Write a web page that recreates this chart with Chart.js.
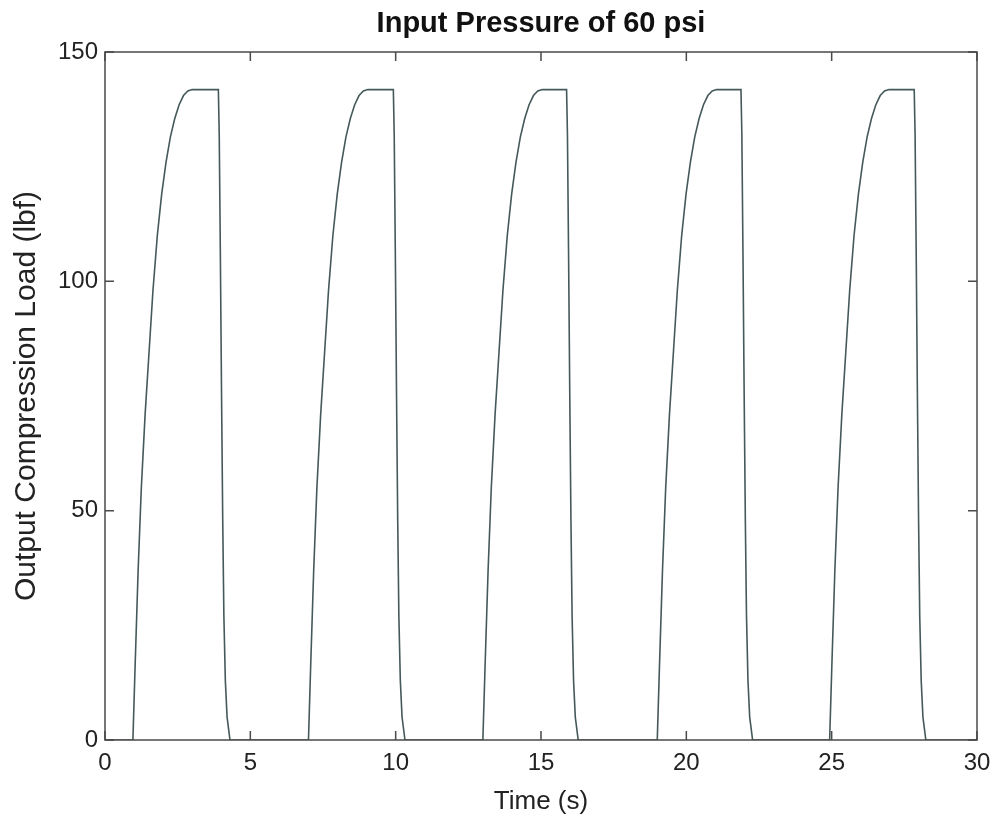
<!DOCTYPE html>
<html>
<head>
<meta charset="utf-8">
<script src="https://cdn.jsdelivr.net/npm/chart.js@4/dist/chart.umd.min.js"></script>
<style>
    body { margin: 0; background: #fff; }
    #chart { display: block; }
</style>
</head>
<body>
<canvas id="chart" width="995" height="824"></canvas>
<script>
// five load pulses (time in s, load in lbf)
const riseLoad = [0, 17, 37, 55, 71, 84, 98, 110, 119, 126, 131.5, 135.5, 138.5, 140.5, 141.5, 141.8];
const fallLoad = [141.8, 132, 105, 75, 48, 27, 13, 5, 0];

const riseTimes = [
    [0.96, 1.04, 1.14, 1.25, 1.38, 1.51, 1.65, 1.80, 1.95, 2.10, 2.25, 2.40, 2.55, 2.70, 2.85, 3.00],
    [7.00, 7.08, 7.18, 7.29, 7.42, 7.55, 7.69, 7.84, 7.99, 8.14, 8.29, 8.44, 8.59, 8.74, 8.89, 9.04],
    [13.00, 13.08, 13.18, 13.29, 13.42, 13.55, 13.69, 13.84, 13.99, 14.14, 14.29, 14.44, 14.59, 14.74, 14.89, 15.04],
    [19.00, 19.08, 19.18, 19.29, 19.42, 19.55, 19.69, 19.84, 19.99, 20.14, 20.29, 20.44, 20.59, 20.74, 20.89, 21.04],
    [24.93, 25.01, 25.11, 25.22, 25.35, 25.48, 25.62, 25.77, 25.92, 26.07, 26.22, 26.37, 26.52, 26.67, 26.82, 26.97],
];
const fallTimes = [
    [3.90, 3.93, 3.97, 4.01, 4.05, 4.09, 4.14, 4.20, 4.30],
    [9.92, 9.95, 9.99, 10.03, 10.07, 10.11, 10.16, 10.22, 10.32],
    [15.88, 15.91, 15.95, 15.99, 16.03, 16.07, 16.12, 16.18, 16.28],
    [21.88, 21.91, 21.95, 21.99, 22.03, 22.07, 22.12, 22.18, 22.28],
    [27.84, 27.87, 27.91, 27.95, 27.99, 28.03, 28.08, 28.14, 28.24],
];

const xTicks = [0, 5, 10, 15, 20, 25, 30];
const yTicks = [0, 50, 100, 150];

const titleText = 'Input Pressure of 60 psi';
const xLabel = 'Time (s)';
const yLabel = 'Output Compression Load (lbf)';

const points = [{ x: 0, y: 0 }];
riseTimes.forEach((times, i) => {
    times.forEach((t, j) => points.push({ x: t, y: riseLoad[j] }));
    fallTimes[i].forEach((t, j) => points.push({ x: t, y: fallLoad[j] }));
});
points.push({ x: 30, y: 0 });

const FONT = '"Liberation Sans", Arial, Helvetica, sans-serif';
const AXIS_COLOR = '#4a4a4a';

// matlab-like box with inward ticks on all four sides, plus the title
const framePlugin = {
    id: 'frame',
    afterDatasetsDraw(chart) {
        const { ctx, chartArea, scales } = chart;
        const { left, right, top, bottom } = chartArea;
        const tickLen = 9;

        ctx.save();
        ctx.strokeStyle = AXIS_COLOR;
        ctx.lineWidth = 1.5;
        ctx.strokeRect(left, top, right - left, bottom - top);

        ctx.beginPath();
        xTicks.forEach((v) => {
            const px = scales.x.getPixelForValue(v);
            ctx.moveTo(px, bottom);
            ctx.lineTo(px, bottom - tickLen);
            ctx.moveTo(px, top);
            ctx.lineTo(px, top + tickLen);
        });
        yTicks.forEach((v) => {
            const py = scales.y.getPixelForValue(v);
            ctx.moveTo(left, py);
            ctx.lineTo(left + tickLen, py);
            ctx.moveTo(right, py);
            ctx.lineTo(right - tickLen, py);
        });
        ctx.stroke();

        ctx.fillStyle = '#111';
        ctx.font = `bold 29px ${FONT}`;
        ctx.textAlign = 'center';
        ctx.textBaseline = 'middle';
        ctx.fillText(titleText, (left + right) / 2, 24);
        ctx.restore();
    },
};

new Chart(document.getElementById('chart'), {
    type: 'scatter',
    data: {
        datasets: [
            {
                data: points,
                showLine: true,
                borderColor: '#45595a',
                borderWidth: 1.6,
                pointRadius: 0,
                tension: 0,
            },
        ],
    },
    options: {
        responsive: false,
        animation: false,
        layout: { padding: { top: 52, right: 18, left: 0, bottom: 0 } },
        plugins: {
            legend: { display: false },
            tooltip: { enabled: false },
        },
        scales: {
            x: {
                type: 'linear',
                min: 0,
                max: 30,
                afterBuildTicks: (scale) => {
                    scale.ticks = xTicks.map((v) => ({ value: v }));
                },
                afterFit: (scale) => {
                    scale.height = 84;
                    scale.paddingLeft = 0;
                    scale.paddingRight = 0;
                },
                grid: { display: false, drawTicks: false, tickLength: 0 },
                border: { display: false },
                ticks: {
                    padding: 9,
                    color: '#222',
                    font: { family: FONT, size: 24 },
                    maxRotation: 0,
                },
                title: {
                    display: true,
                    text: xLabel,
                    color: '#222',
                    font: { family: FONT, size: 26 },
                    padding: { top: 0, bottom: 7 },
                },
            },
            y: {
                type: 'linear',
                min: 0,
                max: 150,
                afterBuildTicks: (scale) => {
                    scale.ticks = yTicks.map((v) => ({ value: v }));
                },
                afterFit: (scale) => {
                    scale.width = 105;
                    scale.paddingTop = 0;
                    scale.paddingBottom = 0;
                },
                grid: { display: false, drawTicks: false, tickLength: 0 },
                border: { display: false },
                ticks: {
                    padding: 7,
                    color: '#222',
                    font: { family: FONT, size: 24 },
                },
                title: {
                    display: true,
                    text: yLabel,
                    color: '#222',
                    font: { family: FONT, size: 30 },
                    padding: { top: 9, bottom: 0 },
                },
            },
        },
    },
    plugins: [framePlugin],
});
</script>
</body>
</html>
